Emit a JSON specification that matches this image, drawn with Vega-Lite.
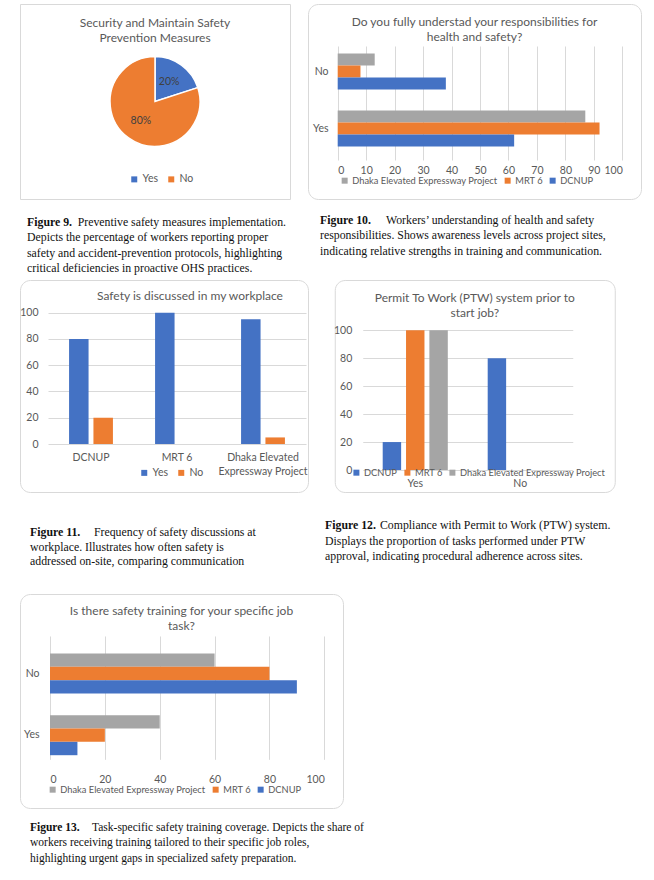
{
  "$schema": "https://vega.github.io/schema/vega-lite/v6.json",
  "background": "white",
  "padding": {"left": 19, "top": 3, "right": 0, "bottom": 0},
  "spacing": 0,
  "resolve": {"scale": {"color": "independent", "xOffset": "independent", "yOffset": "independent", "theta": "independent"}, "legend": {"color": "independent"}},
  "config": {
    "font": "Lato",
    "view": {"stroke": "#D9D9D9", "strokeWidth": 1, "cornerRadius": 10},
    "axis": {"domain": false, "ticks": false, "labelColor": "#595959", "labelFont": "Lato", "labelFontSize": 10.5, "gridColor": "#D9D9D9", "gridWidth": 1},
    "legend": {"orient": "none", "direction": "horizontal", "symbolType": "square", "symbolSize": 36, "symbolStrokeWidth": 0, "labelColor": "#595959", "labelFont": "Lato", "labelFontSize": 9.3, "columnPadding": 5, "padding": 0, "labelOffset": 3, "labelLimit": 400},
    "title": {"font": "Lato", "fontSize": 12, "fontWeight": "normal", "color": "#595959", "anchor": "middle", "frame": "group", "baseline": "top", "lineHeight": 15.5}
  },
  "vconcat": [
    {
      "hconcat": [
        {
          "vconcat": [
            {
              "width": 270, "height": 195,
              "view": {"cornerRadius": 0, "stroke": "#D9D9D9", "strokeWidth": 1},
              "title": {"text": ["Security and Maintain Safety", "Prevention Measures"], "offset": -41},
              "data": {"values": [{"answer": "Yes", "share": 0.2}, {"answer": "No", "share": 0.8}]},
              "encoding": {
                "theta": {"field": "share", "type": "quantitative", "stack": true},
                "order": {"field": "answer", "type": "nominal", "sort": "descending"}
              },
              "layer": [
                {"mark": {"type": "arc", "outerRadius": 45, "stroke": "white", "strokeWidth": 1.5},
                 "encoding": {"color": {"field": "answer", "type": "nominal", "title": null, "scale": {"domain": ["Yes", "No"], "range": ["#4472C4", "#ED7D31"]}, "legend": {"legendX": 109, "legendY": 170, "labelFontSize": 10.5, "columnPadding": 8}}}},
                {"mark": {"type": "text", "radius": 24, "fontSize": 10.5, "color": "#404040", "font": "Lato"},
                 "encoding": {"text": {"field": "share", "type": "quantitative", "format": ".0%"}, "detail": {"field": "answer", "type": "nominal"}}}
              ]
            },
            {
              "width": 270, "height": 79, "view": {"stroke": null},
              "encoding": {
                "x": {"datum": 0, "type": "quantitative", "scale": {"domain": [0, 1]}, "axis": null},
                "y": {"field": "line", "type": "quantitative", "scale": {"domain": [-1.696, 3.457], "nice": false, "zero": false, "reverse": true}, "axis": null},
                "text": {"field": "text", "type": "nominal"}
              },
              "layer": [
                {"data": {"values": [{"line": 0, "text": "Figure 9."}]}, "mark": {"type": "text", "align": "left", "baseline": "alphabetic", "font": "Liberation Serif", "fontSize": 11.8, "fontWeight": "bold", "color": "#111111", "dx": 7}},
                {"data": {"values": [{"line": 0, "text": "Preventive safety measures implementation."}]}, "mark": {"type": "text", "align": "left", "baseline": "alphabetic", "font": "Liberation Serif", "fontSize": 11.8, "color": "#111111", "dx": 57.7}},
                {"data": {"values": [{"line": 1, "text": "Depicts the percentage of workers reporting proper"}, {"line": 2, "text": "safety and accident-prevention protocols, highlighting"}, {"line": 3, "text": "critical deficiencies in proactive OHS practices."}]}, "mark": {"type": "text", "align": "left", "baseline": "alphabetic", "font": "Liberation Serif", "fontSize": 11.8, "color": "#111111", "dx": 7}}
              ]
            }
          ],
          "spacing": 0,
          "resolve": {"scale": {"color": "independent", "xOffset": "independent", "yOffset": "independent", "theta": "independent"}, "legend": {"color": "independent"}}
        },
        {
          "vconcat": [
            {
              "width": 333, "height": 195,
              "title": {"text": ["Do you fully understad your responsibilities for", "health and safety?"], "offset": -40, "lineHeight": 15},
              "data": {"values": [
                {"answer": "No", "site": "Dhaka Elevated Expressway Project", "value": 13},
                {"answer": "No", "site": "MRT 6", "value": 8},
                {"answer": "No", "site": "DCNUP", "value": 38},
                {"answer": "Yes", "site": "Dhaka Elevated Expressway Project", "value": 87},
                {"answer": "Yes", "site": "MRT 6", "value": 92},
                {"answer": "Yes", "site": "DCNUP", "value": 62}
              ]},
              "mark": {"type": "bar"},
              "encoding": {
                "y": {"field": "answer", "type": "nominal", "sort": ["No", "Yes"], "title": null, "scale": {"range": [39, 153], "paddingInner": 0.37, "paddingOuter": 0.185}, "axis": {"offset": -24, "labelPadding": 4, "grid": false}},
                "yOffset": {"field": "site", "type": "nominal", "sort": ["Dhaka Elevated Expressway Project", "MRT 6", "DCNUP"], "scale": {"paddingInner": 0, "paddingOuter": 0}},
                "x": {"field": "value", "type": "quantitative", "title": null, "scale": {"domain": [0, 100], "range": [29.7, 314.3], "nice": false}, "axis": {"values": [0, 10, 20, 30, 40, 50, 60, 70, 80, 90, 100], "grid": true, "offset": -35.5, "labelPadding": 2}},
                "color": {"field": "site", "type": "nominal", "title": null, "scale": {"domain": ["Dhaka Elevated Expressway Project", "MRT 6", "DCNUP"], "range": ["#A5A5A5", "#ED7D31", "#4472C4"]}, "legend": {"legendX": 32, "legendY": 172}}
              }
            },
            {
              "width": 333, "height": 79, "view": {"stroke": null},
              "encoding": {
                "x": {"datum": 0, "type": "quantitative", "scale": {"domain": [0, 1]}, "axis": null},
                "y": {"field": "line", "type": "quantitative", "scale": {"domain": [-1.548, 3.549], "nice": false, "zero": false, "reverse": true}, "axis": null},
                "text": {"field": "text", "type": "nominal"}
              },
              "layer": [
                {"data": {"values": [{"line": 0, "text": "Figure 10."}]}, "mark": {"type": "text", "align": "left", "baseline": "alphabetic", "font": "Liberation Serif", "fontSize": 11.8, "fontWeight": "bold", "color": "#111111", "dx": 12}},
                {"data": {"values": [{"line": 0, "text": "Workers’ understanding of health and safety"}]}, "mark": {"type": "text", "align": "left", "baseline": "alphabetic", "font": "Liberation Serif", "fontSize": 11.8, "color": "#111111", "dx": 78}},
                {"data": {"values": [{"line": 1, "text": "responsibilities. Shows awareness levels across project sites,"}, {"line": 2, "text": "indicating relative strengths in training and communication."}]}, "mark": {"type": "text", "align": "left", "baseline": "alphabetic", "font": "Liberation Serif", "fontSize": 11.8, "color": "#111111", "dx": 12}}
              ]
            }
          ],
          "spacing": 0,
          "resolve": {"scale": {"color": "independent", "xOffset": "independent", "yOffset": "independent", "theta": "independent"}, "legend": {"color": "independent"}}
        }
      ],
      "spacing": 16,
      "resolve": {"scale": {"color": "independent", "xOffset": "independent", "yOffset": "independent", "theta": "independent"}, "legend": {"color": "independent"}}
    },
    {
      "hconcat": [
        {
          "vconcat": [
            {
              "width": 288, "height": 212,
              "title": {"text": "Safety is discussed in my workplace", "offset": -22.5, "dx": 26},
              "data": {"values": [
                {"site": "DCNUP", "answer": "Yes", "value": 80},
                {"site": "DCNUP", "answer": "No", "value": 20},
                {"site": "MRT 6", "answer": "Yes", "value": 100},
                {"site": "MRT 6", "answer": "No", "value": 0},
                {"site": "Dhaka Elevated Expressway Project", "answer": "Yes", "value": 95},
                {"site": "Dhaka Elevated Expressway Project", "answer": "No", "value": 5}
              ]},
              "mark": {"type": "bar"},
              "encoding": {
                "x": {"field": "site", "type": "nominal", "sort": ["DCNUP", "MRT 6", "Dhaka Elevated Expressway Project"], "title": null, "scale": {"range": [28, 286], "paddingInner": 0.49, "paddingOuter": 0.245}, "axis": {"labelAngle": 0, "offset": -41.5, "labelPadding": 2, "labelLineHeight": 14, "grid": false, "labelExpr": "datum.value == 'Dhaka Elevated Expressway Project' ? ['Dhaka Elevated', 'Expressway Project'] : datum.label"}},
                "xOffset": {"field": "answer", "type": "nominal", "sort": ["Yes", "No"], "scale": {"paddingInner": 0.2, "paddingOuter": 0}},
                "y": {"field": "value", "type": "quantitative", "title": null, "scale": {"domain": [0, 100], "range": [164, 32.7], "nice": false}, "axis": {"values": [0, 20, 40, 60, 80, 100], "grid": true, "offset": -22, "labelPadding": 4}},
                "color": {"field": "answer", "type": "nominal", "title": null, "scale": {"domain": ["Yes", "No"], "range": ["#4472C4", "#ED7D31"]}, "legend": {"legendX": 119, "legendY": 187.5, "labelFontSize": 10.5, "columnPadding": 8}}
              }
            },
            {
              "width": 288, "height": 100, "view": {"stroke": null},
              "encoding": {
                "x": {"datum": 0, "type": "quantitative", "scale": {"domain": [0, 1]}, "axis": null},
                "y": {"field": "line", "type": "quantitative", "scale": {"domain": [-2.925, 3.878], "nice": false, "zero": false, "reverse": true}, "axis": null},
                "text": {"field": "text", "type": "nominal"}
              },
              "layer": [
                {"data": {"values": [{"line": 0, "text": "Figure 11."}]}, "mark": {"type": "text", "align": "left", "baseline": "alphabetic", "font": "Liberation Serif", "fontSize": 11.8, "fontWeight": "bold", "color": "#111111", "dx": 10}},
                {"data": {"values": [{"line": 0, "text": "Frequency of safety discussions at"}]}, "mark": {"type": "text", "align": "left", "baseline": "alphabetic", "font": "Liberation Serif", "fontSize": 11.8, "color": "#111111", "dx": 74}},
                {"data": {"values": [{"line": 1, "text": "workplace. Illustrates how often safety is"}, {"line": 2, "text": "addressed on-site, comparing communication"}]}, "mark": {"type": "text", "align": "left", "baseline": "alphabetic", "font": "Liberation Serif", "fontSize": 11.8, "color": "#111111", "dx": 10}}
              ]
            }
          ],
          "spacing": 0,
          "resolve": {"scale": {"color": "independent", "xOffset": "independent", "yOffset": "independent", "theta": "independent"}, "legend": {"color": "independent"}}
        },
        {
          "vconcat": [
            {
              "width": 280, "height": 212,
              "title": {"text": ["Permit To Work (PTW) system prior to", "start job?"], "offset": -40, "lineHeight": 15},
              "data": {"values": [
                {"answer": "Yes", "site": "DCNUP", "value": 20},
                {"answer": "Yes", "site": "MRT 6", "value": 100},
                {"answer": "Yes", "site": "Dhaka Elevated Expressway Project", "value": 100},
                {"answer": "No", "site": "DCNUP", "value": 80},
                {"answer": "No", "site": "MRT 6", "value": 0},
                {"answer": "No", "site": "Dhaka Elevated Expressway Project", "value": 0}
              ]},
              "mark": {"type": "bar"},
              "encoding": {
                "x": {"field": "answer", "type": "nominal", "sort": ["Yes", "No"], "title": null, "scale": {"range": [28, 238], "paddingInner": 0.38, "paddingOuter": 0.19}, "axis": {"labelAngle": 0, "offset": -15.3, "labelPadding": 2, "grid": false}},
                "xOffset": {"field": "site", "type": "nominal", "sort": ["DCNUP", "MRT 6", "Dhaka Elevated Expressway Project"], "scale": {"paddingInner": 0.21, "paddingOuter": 0}},
                "y": {"field": "value", "type": "quantitative", "title": null, "scale": {"domain": [0, 100], "range": [190, 50.3], "nice": false}, "axis": {"values": [0, 20, 40, 60, 80, 100], "grid": true, "offset": -21, "labelPadding": 4}},
                "color": {"field": "site", "type": "nominal", "title": null, "scale": {"domain": ["DCNUP", "MRT 6", "Dhaka Elevated Expressway Project"], "range": ["#4472C4", "#ED7D31", "#A5A5A5"]}, "legend": {"legendX": 17, "legendY": 188}}
              }
            },
            {
              "width": 300, "height": 100, "view": {"stroke": null},
              "encoding": {
                "x": {"datum": 0, "type": "quantitative", "scale": {"domain": [0, 1]}, "axis": null},
                "y": {"field": "line", "type": "quantitative", "scale": {"domain": [-2.323, 4.129], "nice": false, "zero": false, "reverse": true}, "axis": null},
                "text": {"field": "text", "type": "nominal"}
              },
              "layer": [
                {"data": {"values": [{"line": 0, "text": "Figure 12."}]}, "mark": {"type": "text", "align": "left", "baseline": "alphabetic", "font": "Liberation Serif", "fontSize": 11.8, "fontWeight": "bold", "color": "#111111", "dx": 0}},
                {"data": {"values": [{"line": 0, "text": "Compliance with Permit to Work (PTW) system."}]}, "mark": {"type": "text", "align": "left", "baseline": "alphabetic", "font": "Liberation Serif", "fontSize": 11.8, "color": "#111111", "dx": 55}},
                {"data": {"values": [{"line": 1, "text": "Displays the proportion of tasks performed under PTW"}, {"line": 2, "text": "approval, indicating procedural adherence across sites."}]}, "mark": {"type": "text", "align": "left", "baseline": "alphabetic", "font": "Liberation Serif", "fontSize": 11.8, "color": "#111111", "dx": 0}}
              ]
            }
          ],
          "spacing": 0,
          "center": true,
          "resolve": {"scale": {"color": "independent", "xOffset": "independent", "yOffset": "independent", "theta": "independent"}, "legend": {"color": "independent"}}
        }
      ],
      "spacing": 16,
      "resolve": {"scale": {"color": "independent", "xOffset": "independent", "yOffset": "independent", "theta": "independent"}, "legend": {"color": "independent"}}
    },
    {
      "vconcat": [
        {
          "width": 323, "height": 214,
          "title": {"text": ["Is there safety training for your specific job", "task?"], "offset": -39, "lineHeight": 15},
          "data": {"values": [
            {"answer": "No", "site": "Dhaka Elevated Expressway Project", "value": 60},
            {"answer": "No", "site": "MRT 6", "value": 80},
            {"answer": "No", "site": "DCNUP", "value": 90},
            {"answer": "Yes", "site": "Dhaka Elevated Expressway Project", "value": 40},
            {"answer": "Yes", "site": "MRT 6", "value": 20},
            {"answer": "Yes", "site": "DCNUP", "value": 10}
          ]},
          "mark": {"type": "bar"},
          "encoding": {
            "y": {"field": "answer", "type": "nominal", "sort": ["No", "Yes"], "title": null, "scale": {"range": [48.7, 172], "paddingInner": 0.35, "paddingOuter": 0.175}, "axis": {"offset": -23, "labelPadding": 4, "grid": false}},
            "yOffset": {"field": "site", "type": "nominal", "sort": ["Dhaka Elevated Expressway Project", "MRT 6", "DCNUP"], "scale": {"paddingInner": 0, "paddingOuter": 0}},
            "x": {"field": "value", "type": "quantitative", "title": null, "scale": {"domain": [0, 100], "range": [30, 304.3], "nice": false}, "axis": {"values": [0, 20, 40, 60, 80, 100], "grid": true, "offset": -36, "labelPadding": 2}},
            "color": {"field": "site", "type": "nominal", "title": null, "scale": {"domain": ["Dhaka Elevated Expressway Project", "MRT 6", "DCNUP"], "range": ["#A5A5A5", "#ED7D31", "#4472C4"]}, "legend": {"legendX": 28, "legendY": 191}}
          }
        },
        {
          "width": 345, "height": 73, "view": {"stroke": null},
          "encoding": {
            "x": {"datum": 0, "type": "quantitative", "scale": {"domain": [0, 1]}, "axis": null},
            "y": {"field": "line", "type": "quantitative", "scale": {"domain": [-1.419, 3.291], "nice": false, "zero": false, "reverse": true}, "axis": null},
            "text": {"field": "text", "type": "nominal"}
          },
          "layer": [
            {"data": {"values": [{"line": 0, "text": "Figure 13."}]}, "mark": {"type": "text", "align": "left", "baseline": "alphabetic", "font": "Liberation Serif", "fontSize": 11.5, "fontWeight": "bold", "color": "#111111", "dx": 10}},
            {"data": {"values": [{"line": 0, "text": "Task-specific safety training coverage. Depicts the share of"}]}, "mark": {"type": "text", "align": "left", "baseline": "alphabetic", "font": "Liberation Serif", "fontSize": 11.5, "color": "#111111", "dx": 72}},
            {"data": {"values": [{"line": 1, "text": "workers receiving training tailored to their specific job roles,"}, {"line": 2, "text": "highlighting urgent gaps in specialized safety preparation."}]}, "mark": {"type": "text", "align": "left", "baseline": "alphabetic", "font": "Liberation Serif", "fontSize": 11.5, "color": "#111111", "dx": 10}}
          ]
        }
      ],
      "spacing": 0,
      "resolve": {"scale": {"color": "independent", "xOffset": "independent", "yOffset": "independent", "theta": "independent"}, "legend": {"color": "independent"}}
    }
  ]
}
